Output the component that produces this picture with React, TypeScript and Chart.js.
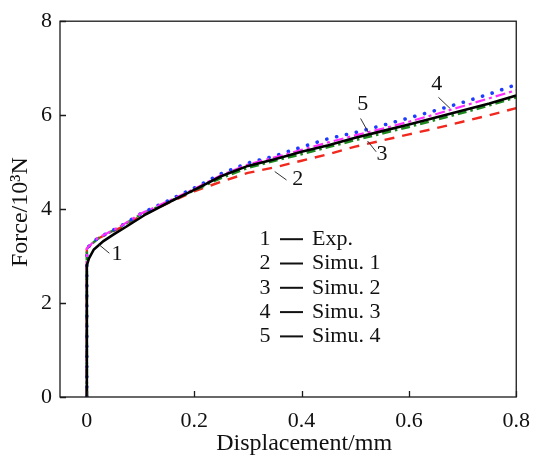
import React, { useEffect, useRef } from "react";
import { Chart, registerables } from "chart.js";

Chart.register(...registerables);

// ---------- data ----------
const expX = [0, 0, 0.004, 0.013, 0.031, 0.05, 0.074, 0.11, 0.152, 0.2, 0.25, 0.3, 0.35, 0.4, 0.45, 0.5, 0.55, 0.6, 0.65, 0.7, 0.75, 0.8];
const expY = [0, 2.8, 2.95, 3.14, 3.32, 3.46, 3.63, 3.89, 4.14, 4.41, 4.7, 4.92, 5.06, 5.22, 5.36, 5.52, 5.66, 5.8, 5.95, 6.1, 6.25, 6.42];

const simX = [0, 0, 0.002, 0.02, 0.062, 0.1, 0.15, 0.2, 0.25, 0.3, 0.35, 0.4, 0.45, 0.5, 0.55, 0.6, 0.65, 0.7, 0.75, 0.8];
const simu1Y = [0, 3.15, 3.18, 3.37, 3.6, 3.85, 4.12, 4.38, 4.58, 4.77, 4.89, 5.03, 5.17, 5.33, 5.46, 5.59, 5.72, 5.86, 6.0, 6.15];
const simu2Y = [0, 3.15, 3.18, 3.37, 3.62, 3.88, 4.14, 4.4, 4.66, 4.88, 5.03, 5.17, 5.32, 5.47, 5.61, 5.75, 5.9, 6.05, 6.21, 6.38];
const simu3Y = [0, 3.16, 3.19, 3.38, 3.63, 3.9, 4.17, 4.45, 4.75, 4.98, 5.13, 5.32, 5.5, 5.63, 5.78, 5.94, 6.1, 6.27, 6.45, 6.65];
const simu4Y = [0, 3.16, 3.19, 3.38, 3.63, 3.9, 4.16, 4.43, 4.72, 4.95, 5.1, 5.26, 5.42, 5.57, 5.71, 5.86, 6.02, 6.19, 6.36, 6.53];

const xTicks = [0, 0.2, 0.4, 0.6, 0.8];
const yTicks = [0, 2, 4, 6, 8];

const legendNums = ["1", "2", "3", "4", "5"];
const legendNames = ["Exp.", "Simu. 1", "Simu. 2", "Simu. 3", "Simu. 4"];

// curve labels: [label, lineStartX, lineStartY, lineEndX, lineEndY, textX, textY]
const curveLabels: [string, number, number, number, number, number, number][] = [
  ["1", 0.022, 3.25, 0.042, 3.06, 0.056, 3.05],
  ["2", 0.35, 4.8, 0.372, 4.62, 0.393, 4.64],
  ["3", 0.523, 5.45, 0.539, 5.22, 0.55, 5.16],
  ["5", 0.51, 5.93, 0.524, 5.64, 0.514, 6.23],
  ["4", 0.655, 6.38, 0.677, 6.14, 0.652, 6.66],
];

const FONT = `"Liberation Serif"`;

const toPts = (xs: number[], ys: number[]) => xs.map((x, i) => ({ x, y: ys[i] }));

const decorPlugin = {
  id: "decor",
  afterDraw(chart: any) {
    const { ctx, chartArea: a, scales } = chart;
    const xs = scales.x;
    const ys = scales.y;
    ctx.save();
    // frame
    ctx.strokeStyle = "#1a1a1a";
    ctx.lineWidth = 1.3;
    ctx.strokeRect(a.left, a.top, a.right - a.left, a.bottom - a.top);
    // inward ticks
    ctx.beginPath();
    xTicks.forEach((v) => {
      const px = Math.round(xs.getPixelForValue(v)) + 0.5;
      ctx.moveTo(px, a.bottom);
      ctx.lineTo(px, a.bottom - 6);
    });
    yTicks.forEach((v) => {
      const py = Math.round(ys.getPixelForValue(v)) + 0.5;
      ctx.moveTo(a.left, py);
      ctx.lineTo(a.left + 6, py);
    });
    ctx.stroke();

    // curve labels
    ctx.fillStyle = "#111";
    ctx.font = `22px ${FONT}`;
    ctx.textAlign = "center";
    ctx.textBaseline = "middle";
    ctx.lineWidth = 1;
    ctx.strokeStyle = "#333";
    curveLabels.forEach(([t, x1, y1, x2, y2, tx, ty]) => {
      ctx.beginPath();
      ctx.moveTo(xs.getPixelForValue(x1), ys.getPixelForValue(y1));
      ctx.lineTo(xs.getPixelForValue(x2), ys.getPixelForValue(y2));
      ctx.stroke();
      ctx.fillText(t, xs.getPixelForValue(tx), ys.getPixelForValue(ty));
    });

    // legend
    const lx = a.left + 205;
    const ly = a.top + 218;
    const rowH = 24.3;
    ctx.font = `22px ${FONT}`;
    ctx.lineWidth = 2;
    ctx.strokeStyle = "#111";
    legendNums.forEach((n, i) => {
      const y = ly + i * rowH;
      ctx.textAlign = "center";
      ctx.fillText(n, lx, y);
      ctx.beginPath();
      ctx.moveTo(lx + 15, y);
      ctx.lineTo(lx + 38, y);
      ctx.stroke();
      ctx.textAlign = "left";
      ctx.fillText(legendNames[i], lx + 47, y);
    });

    // axis titles
    ctx.font = `24px ${FONT}`;
    ctx.textAlign = "center";
    ctx.textBaseline = "middle";
    ctx.fillText("Displacement/mm", (a.left + a.right) / 2 + 16, a.bottom + 47);
    ctx.save();
    ctx.translate(21, (a.top + a.bottom) / 2 + 3);
    ctx.rotate(-Math.PI / 2);
    ctx.fillText("Force/10\u00B3N", 0, 0);
    ctx.restore();
    ctx.restore();
  },
};

export default function App() {
  const ref = useRef<HTMLCanvasElement>(null);
  useEffect(() => {
    if (!ref.current) return;
    const chart = new Chart(ref.current, {
      type: "line",
      data: {
        datasets: [
          {
            label: "Exp.",
            data: toPts(expX, expY),
            borderColor: "#000000",
            borderWidth: 2.6,
            pointRadius: 0,
            order: 0,
          },
          {
            label: "Simu. 1",
            data: toPts(simX, simu1Y),
            borderColor: "#f0281e",
            borderWidth: 2.4,
            borderDash: [10, 8],
            pointRadius: 0,
            order: 4,
          },
          {
            label: "Simu. 2",
            data: toPts(simX, simu2Y),
            borderColor: "#1f8a1f",
            borderWidth: 2.6,
            borderDash: [9, 4, 2.5, 4],
            pointRadius: 0,
            order: 3,
          },
          {
            label: "Simu. 3",
            data: toPts(simX, simu3Y),
            borderColor: "#1e3cff",
            borderWidth: 3.6,
            borderDash: [0.1, 10],
            borderCapStyle: "round",
            pointRadius: 0,
            order: 2,
          },
          {
            label: "Simu. 4",
            data: toPts(simX, simu4Y),
            borderColor: "#ff2cff",
            borderWidth: 2.2,
            borderDash: [10, 4, 3, 4],
            pointRadius: 0,
            order: 1,
          },
        ],
      },
      options: {
        animation: false,
        responsive: false,
        layout: { padding: { top: 12, right: 0, left: 0, bottom: 0 } },
        plugins: { legend: { display: false }, tooltip: { enabled: false } },
        scales: {
          x: {
            type: "linear",
            min: -0.05,
            max: 0.8,
            afterBuildTicks: (s: any) => {
              s.ticks = xTicks.map((v) => ({ value: v }));
            },
            afterFit: (s: any) => {
              s.height = 64;
            },
            grid: { display: false, drawTicks: false },
            border: { display: false },
            ticks: {
              color: "#111",
              font: { family: FONT, size: 22 },
              padding: 11,
              maxRotation: 0,
              callback: (v: any) => String(Math.round(v * 10) / 10),
            },
          },
          y: {
            type: "linear",
            min: 0,
            max: 8,
            afterBuildTicks: (s: any) => {
              s.ticks = yTicks.map((v) => ({ value: v }));
            },
            afterFit: (s: any) => {
              s.width = 60;
            },
            grid: { display: false, drawTicks: false },
            border: { display: false },
            ticks: {
              color: "#111",
              font: { family: FONT, size: 22 },
              padding: 8,
            },
          },
        },
      },
      plugins: [decorPlugin],
    } as any);
    return () => chart.destroy();
  }, []);
  return (
    <div style={{ position: "absolute", left: 0, top: 0, width: 541, height: 461, background: "#fff" }}>
      <canvas ref={ref} width={541} height={461} style={{ display: "block" }} />
    </div>
  );
}
